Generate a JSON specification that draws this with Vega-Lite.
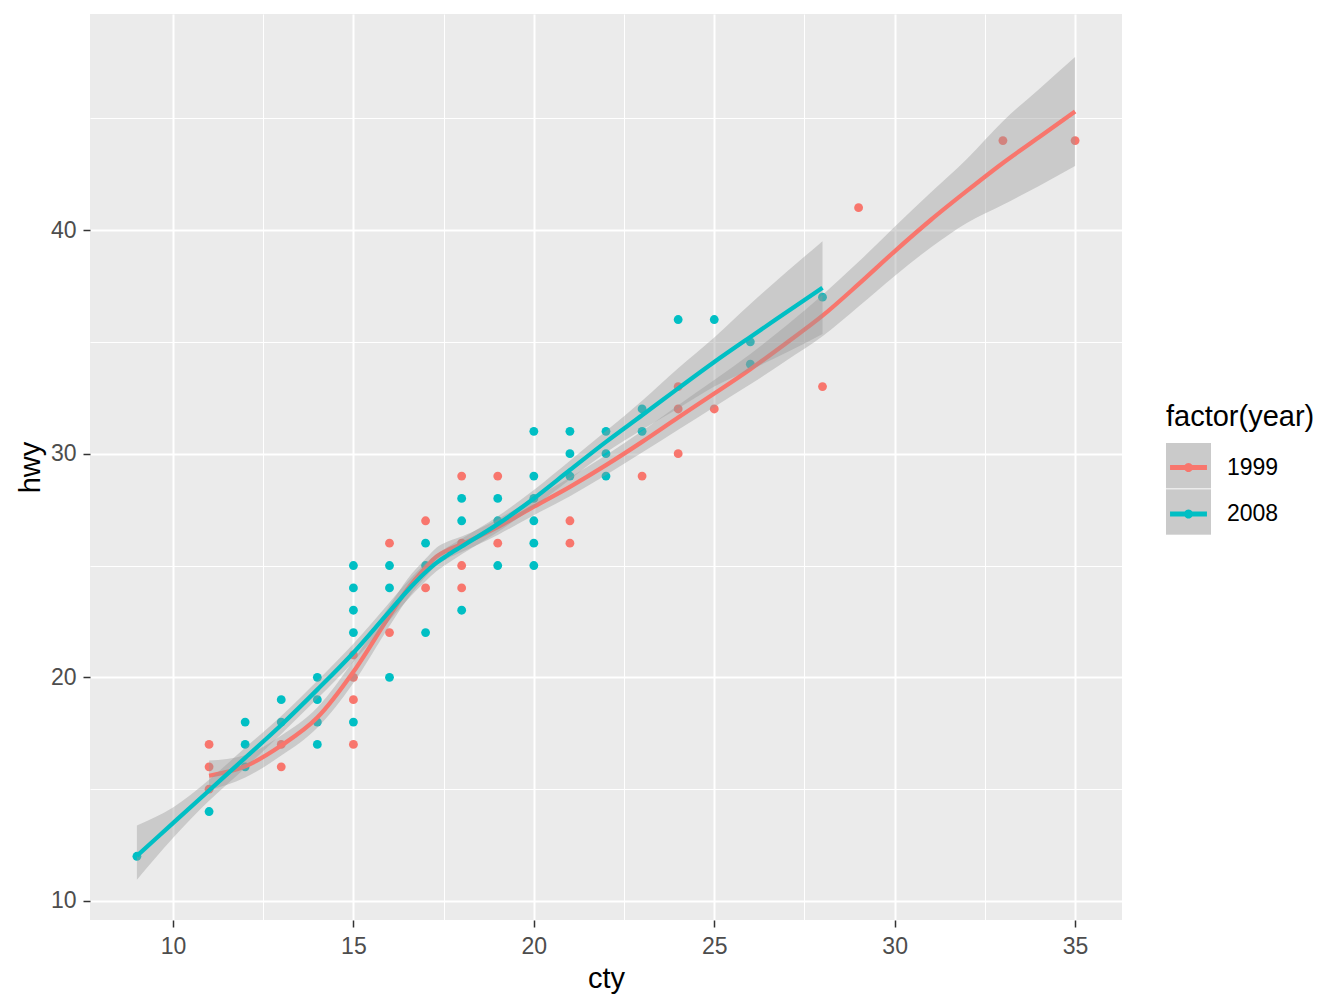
{
  "$schema": "https://vega.github.io/schema/vega-lite/v6.json",
  "width": 1032,
  "height": 906,
  "autosize": {"type": "none"},
  "padding": {"left": 90, "top": 14, "right": 222, "bottom": 88},
  "background": "white",
  "config": {
    "view": {"fill": "#EBEBEB", "stroke": null},
    "font": "Liberation Sans",
    "axis": {
      "labelFont": "Liberation Sans", "labelFontSize": 23, "labelColor": "#4D4D4D",
      "titleFont": "Liberation Sans", "titleFontSize": 29, "titleFontWeight": "normal", "titleColor": "black",
      "tickColor": "#333333", "tickSize": 7, "tickWidth": 1.5, "domain": false,
      "gridColor": "white", "gridWidth": 2, "gridOpacity": 1
    }
  },
  "datasets": {
    "points": [
      {"cty": 11, "hwy": 17, "year": "1999"}, {"cty": 11, "hwy": 16, "year": "1999"}, {"cty": 11, "hwy": 15, "year": "1999"},
      {"cty": 13, "hwy": 17, "year": "1999"}, {"cty": 13, "hwy": 16, "year": "1999"},
      {"cty": 15, "hwy": 21, "year": "1999"}, {"cty": 15, "hwy": 20, "year": "1999"}, {"cty": 15, "hwy": 19, "year": "1999"}, {"cty": 15, "hwy": 17, "year": "1999"},
      {"cty": 16, "hwy": 26, "year": "1999"}, {"cty": 16, "hwy": 22, "year": "1999"},
      {"cty": 17, "hwy": 27, "year": "1999"}, {"cty": 17, "hwy": 24, "year": "1999"},
      {"cty": 18, "hwy": 29, "year": "1999"}, {"cty": 18, "hwy": 26, "year": "1999"}, {"cty": 18, "hwy": 25, "year": "1999"}, {"cty": 18, "hwy": 24, "year": "1999"},
      {"cty": 19, "hwy": 29, "year": "1999"}, {"cty": 19, "hwy": 26, "year": "1999"},
      {"cty": 21, "hwy": 27, "year": "1999"}, {"cty": 21, "hwy": 26, "year": "1999"},
      {"cty": 23, "hwy": 29, "year": "1999"},
      {"cty": 24, "hwy": 33, "year": "1999"}, {"cty": 24, "hwy": 32, "year": "1999"}, {"cty": 24, "hwy": 30, "year": "1999"},
      {"cty": 25, "hwy": 32, "year": "1999"},
      {"cty": 28, "hwy": 33, "year": "1999"},
      {"cty": 29, "hwy": 41, "year": "1999"},
      {"cty": 33, "hwy": 44, "year": "1999"},
      {"cty": 35, "hwy": 44, "year": "1999"},
      {"cty": 9, "hwy": 12, "year": "2008"},
      {"cty": 11, "hwy": 14, "year": "2008"},
      {"cty": 12, "hwy": 18, "year": "2008"}, {"cty": 12, "hwy": 17, "year": "2008"}, {"cty": 12, "hwy": 16, "year": "2008"},
      {"cty": 13, "hwy": 19, "year": "2008"}, {"cty": 13, "hwy": 18, "year": "2008"},
      {"cty": 14, "hwy": 20, "year": "2008"}, {"cty": 14, "hwy": 19, "year": "2008"}, {"cty": 14, "hwy": 18, "year": "2008"}, {"cty": 14, "hwy": 17, "year": "2008"},
      {"cty": 15, "hwy": 25, "year": "2008"}, {"cty": 15, "hwy": 24, "year": "2008"}, {"cty": 15, "hwy": 23, "year": "2008"}, {"cty": 15, "hwy": 22, "year": "2008"}, {"cty": 15, "hwy": 18, "year": "2008"},
      {"cty": 16, "hwy": 25, "year": "2008"}, {"cty": 16, "hwy": 24, "year": "2008"}, {"cty": 16, "hwy": 20, "year": "2008"},
      {"cty": 17, "hwy": 26, "year": "2008"}, {"cty": 17, "hwy": 25, "year": "2008"}, {"cty": 17, "hwy": 22, "year": "2008"},
      {"cty": 18, "hwy": 28, "year": "2008"}, {"cty": 18, "hwy": 27, "year": "2008"}, {"cty": 18, "hwy": 23, "year": "2008"},
      {"cty": 19, "hwy": 28, "year": "2008"}, {"cty": 19, "hwy": 27, "year": "2008"}, {"cty": 19, "hwy": 25, "year": "2008"},
      {"cty": 20, "hwy": 31, "year": "2008"}, {"cty": 20, "hwy": 29, "year": "2008"}, {"cty": 20, "hwy": 28, "year": "2008"}, {"cty": 20, "hwy": 27, "year": "2008"}, {"cty": 20, "hwy": 26, "year": "2008"}, {"cty": 20, "hwy": 25, "year": "2008"},
      {"cty": 21, "hwy": 31, "year": "2008"}, {"cty": 21, "hwy": 30, "year": "2008"}, {"cty": 21, "hwy": 29, "year": "2008"},
      {"cty": 22, "hwy": 31, "year": "2008"}, {"cty": 22, "hwy": 30, "year": "2008"}, {"cty": 22, "hwy": 29, "year": "2008"},
      {"cty": 23, "hwy": 32, "year": "2008"}, {"cty": 23, "hwy": 31, "year": "2008"},
      {"cty": 24, "hwy": 36, "year": "2008"},
      {"cty": 25, "hwy": 36, "year": "2008"},
      {"cty": 26, "hwy": 35, "year": "2008"}, {"cty": 26, "hwy": 34, "year": "2008"},
      {"cty": 28, "hwy": 37, "year": "2008"}
    ],
    "curves": [
      {"year": "1999", "cty": 11, "fit": 15.6, "lo": 14.95, "hi": 16.28},
      {"year": "1999", "cty": 12, "fit": 16.02, "lo": 15.52, "hi": 16.52},
      {"year": "1999", "cty": 13, "fit": 16.95, "lo": 16.5, "hi": 17.4},
      {"year": "1999", "cty": 14, "fit": 18.2, "lo": 17.75, "hi": 18.65},
      {"year": "1999", "cty": 15, "fit": 20.25, "lo": 19.75, "hi": 20.75},
      {"year": "1999", "cty": 16, "fit": 22.75, "lo": 22.3, "hi": 23.2},
      {"year": "1999", "cty": 16.5, "fit": 23.95, "lo": 23.5, "hi": 24.4},
      {"year": "1999", "cty": 17, "fit": 24.9, "lo": 24.5, "hi": 25.3},
      {"year": "1999", "cty": 17.3, "fit": 25.4, "lo": 25.0, "hi": 25.8},
      {"year": "1999", "cty": 17.6, "fit": 25.68, "lo": 25.3, "hi": 26.06},
      {"year": "1999", "cty": 18, "fit": 25.95, "lo": 25.6, "hi": 26.3},
      {"year": "1999", "cty": 19, "fit": 26.72, "lo": 26.37, "hi": 27.07},
      {"year": "1999", "cty": 20, "fit": 27.63, "lo": 27.25, "hi": 28.01},
      {"year": "1999", "cty": 21, "fit": 28.52, "lo": 28.1, "hi": 28.94},
      {"year": "1999", "cty": 22, "fit": 29.49, "lo": 29.05, "hi": 29.93},
      {"year": "1999", "cty": 23, "fit": 30.53, "lo": 30.05, "hi": 31.01},
      {"year": "1999", "cty": 24, "fit": 31.62, "lo": 31.07, "hi": 32.17},
      {"year": "1999", "cty": 25, "fit": 32.69, "lo": 32.09, "hi": 33.29},
      {"year": "1999", "cty": 26, "fit": 33.78, "lo": 33.1, "hi": 34.46},
      {"year": "1999", "cty": 27, "fit": 34.95, "lo": 34.17, "hi": 35.73},
      {"year": "1999", "cty": 28, "fit": 36.17, "lo": 35.25, "hi": 37.1},
      {"year": "1999", "cty": 29, "fit": 37.58, "lo": 36.58, "hi": 38.58},
      {"year": "1999", "cty": 30, "fit": 39.05, "lo": 37.95, "hi": 40.15},
      {"year": "1999", "cty": 31, "fit": 40.45, "lo": 39.22, "hi": 41.68},
      {"year": "1999", "cty": 32, "fit": 41.75, "lo": 40.32, "hi": 43.18},
      {"year": "1999", "cty": 33, "fit": 43.0, "lo": 41.13, "hi": 44.87},
      {"year": "1999", "cty": 34, "fit": 44.15, "lo": 41.97, "hi": 46.3},
      {"year": "1999", "cty": 35, "fit": 45.3, "lo": 42.86, "hi": 47.74},
      {"year": "2008", "cty": 9, "fit": 12.02, "lo": 10.95, "hi": 13.38},
      {"year": "2008", "cty": 10, "fit": 13.48, "lo": 12.82, "hi": 14.18},
      {"year": "2008", "cty": 11, "fit": 14.94, "lo": 14.48, "hi": 15.42},
      {"year": "2008", "cty": 12, "fit": 16.4, "lo": 15.95, "hi": 16.85},
      {"year": "2008", "cty": 13, "fit": 17.87, "lo": 17.47, "hi": 18.27},
      {"year": "2008", "cty": 14, "fit": 19.45, "lo": 19.05, "hi": 19.85},
      {"year": "2008", "cty": 15, "fit": 21.1, "lo": 20.7, "hi": 21.5},
      {"year": "2008", "cty": 16, "fit": 22.95, "lo": 22.55, "hi": 23.35},
      {"year": "2008", "cty": 16.6, "fit": 24.05, "lo": 23.65, "hi": 24.45},
      {"year": "2008", "cty": 17, "fit": 24.7, "lo": 24.3, "hi": 25.1},
      {"year": "2008", "cty": 17.3, "fit": 25.12, "lo": 24.74, "hi": 25.5},
      {"year": "2008", "cty": 17.6, "fit": 25.45, "lo": 25.08, "hi": 25.82},
      {"year": "2008", "cty": 18, "fit": 25.85, "lo": 25.5, "hi": 26.2},
      {"year": "2008", "cty": 19, "fit": 26.85, "lo": 26.5, "hi": 27.2},
      {"year": "2008", "cty": 20, "fit": 28.0, "lo": 27.62, "hi": 28.38},
      {"year": "2008", "cty": 21, "fit": 29.27, "lo": 28.85, "hi": 29.69},
      {"year": "2008", "cty": 22, "fit": 30.53, "lo": 30.05, "hi": 31.01},
      {"year": "2008", "cty": 23, "fit": 31.72, "lo": 31.07, "hi": 32.37},
      {"year": "2008", "cty": 24, "fit": 32.92, "lo": 32.02, "hi": 33.82},
      {"year": "2008", "cty": 25, "fit": 34.1, "lo": 33.0, "hi": 35.2},
      {"year": "2008", "cty": 26, "fit": 35.22, "lo": 33.75, "hi": 36.69},
      {"year": "2008", "cty": 27, "fit": 36.32, "lo": 34.52, "hi": 38.12},
      {"year": "2008", "cty": 28, "fit": 37.42, "lo": 35.35, "hi": 39.5}
    ]
  },
  "resolve": {"axis": {"x": "independent", "y": "independent"}},
  "layer": [
    {
      "data": {"name": "points"},
      "mark": {"type": "circle", "size": 78, "opacity": 1},
      "encoding": {
        "x": {"field": "cty", "type": "quantitative",
              "scale": {"domain": [7.7, 36.3], "nice": false, "zero": false},
              "axis": {"orient": "bottom", "title": "cty", "values": [10, 15, 20, 25, 30, 35], "grid": true, "labelPadding": 8, "titlePadding": 6, "labelFlush": false}},
        "y": {"field": "hwy", "type": "quantitative",
              "scale": {"domain": [9.15, 49.66], "nice": false, "zero": false},
              "axis": {"orient": "left", "title": "hwy", "values": [10, 20, 30, 40], "grid": true, "labelPadding": 7, "titlePadding": 5, "labelFlush": false}},
        "color": {"field": "year", "type": "nominal",
                  "scale": {"domain": ["1999", "2008"], "range": ["#F8766D", "#00BFC4"]},
                  "legend": {
                    "orient": "none", "legendX": 1076, "legendY": 389, "zindex": 2,
                    "title": "factor(year)", "titleFont": "Liberation Sans", "titleFontSize": 29, "titleFontWeight": "normal", "titleColor": "black", "titlePadding": 13,
                    "labelFont": "Liberation Sans", "labelFontSize": 23, "labelColor": "black", "labelOffset": 16,
                    "symbolType": "M-0.82,-0.11L-0.167,-0.11A0.2,0.2 0 0 1 0.167,-0.11L0.82,-0.11L0.82,0.11L0.167,0.11A0.2,0.2 0 0 1 -0.167,0.11L-0.82,0.11Z",
                    "symbolSize": 2025, "symbolStrokeWidth": 0, "symbolOpacity": 1, "rowPadding": 11.5, "padding": 0
                  }}
      }
    },
    {
      "data": {"name": "curves"},
      "transform": [{"filter": "datum.year == '1999'"}],
      "mark": {"type": "area", "opacity": 0.4, "interpolate": "monotone"},
      "encoding": {
        "x": {"field": "cty", "type": "quantitative",
              "axis": {"orient": "top", "title": null, "values": [12.5, 17.5, 22.5, 27.5, 32.5], "grid": true, "gridWidth": 1, "labels": false, "ticks": false, "domain": false}},
        "y": {"field": "lo", "type": "quantitative",
              "axis": {"orient": "right", "title": null, "values": [15, 25, 35, 45], "grid": true, "gridWidth": 1, "labels": false, "ticks": false, "domain": false}},
        "y2": {"field": "hi"},
        "fill": {"field": "year", "type": "nominal",
                 "scale": {"range": ["#999999", "#999999"]},
                 "legend": {
                   "orient": "none", "legendX": 1076, "legendY": 429, "zindex": 1, "title": null,
                   "labelExpr": "''", "labelFontSize": 23, "labelOffset": 0,
                   "fillColor": "#EBEBEB",
                   "symbolType": "square", "symbolSize": 2025, "symbolStrokeWidth": 0, "symbolOpacity": 0.4, "rowPadding": 1.5, "padding": 0
                 }}
      }
    },
    {
      "data": {"name": "curves"},
      "transform": [{"filter": "datum.year == '1999'"}],
      "mark": {"type": "line", "strokeWidth": 4.3, "interpolate": "monotone"},
      "encoding": {
        "x": {"field": "cty", "type": "quantitative", "axis": null},
        "y": {"field": "fit", "type": "quantitative", "axis": null},
        "color": {"field": "year", "type": "nominal", "scale": {"domain": ["1999", "2008"], "range": ["#F8766D", "#00BFC4"]}}
      }
    },
    {
      "data": {"name": "curves"},
      "transform": [{"filter": "datum.year == '2008'"}],
      "mark": {"type": "area", "opacity": 0.4, "interpolate": "monotone"},
      "encoding": {
        "x": {"field": "cty", "type": "quantitative", "axis": null},
        "y": {"field": "lo", "type": "quantitative", "axis": null},
        "y2": {"field": "hi"},
        "fill": {"field": "year", "type": "nominal", "scale": {"range": ["#999999", "#999999"]}}
      }
    },
    {
      "data": {"name": "curves"},
      "transform": [{"filter": "datum.year == '2008'"}],
      "mark": {"type": "line", "strokeWidth": 4.3, "interpolate": "monotone"},
      "encoding": {
        "x": {"field": "cty", "type": "quantitative", "axis": null},
        "y": {"field": "fit", "type": "quantitative", "axis": null},
        "color": {"field": "year", "type": "nominal", "scale": {"domain": ["1999", "2008"], "range": ["#F8766D", "#00BFC4"]}}
      }
    }
  ]
}
